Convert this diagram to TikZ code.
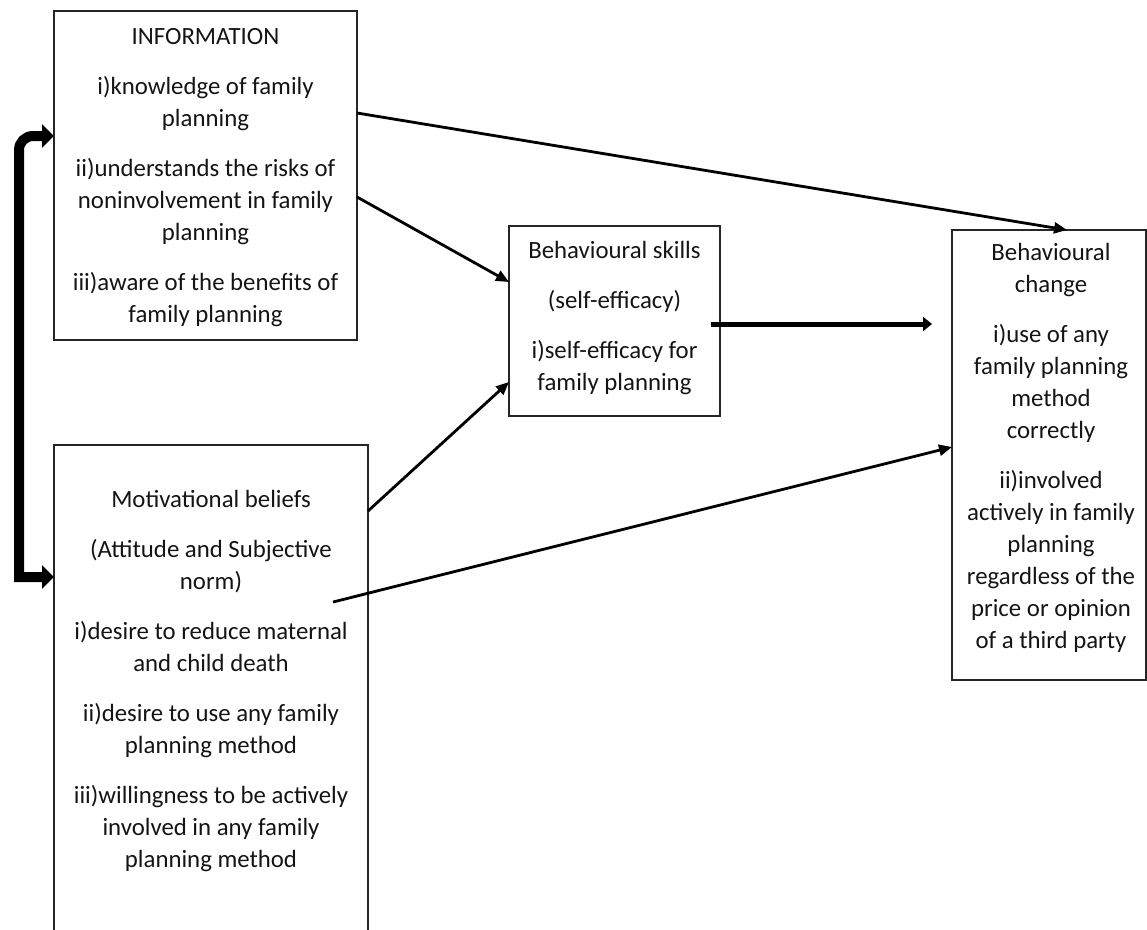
\documentclass[tikz,border=0pt]{standalone}
\usepackage{fontspec}
\setmainfont{Carlito}
\usetikzlibrary{arrows.meta,calc}
\begin{document}
\begin{tikzpicture}[x=1pt,y=-1pt,
  box/.style={draw=black!85,line width=1.8pt,rectangle,inner sep=0pt,outer sep=0pt},
  txt/.style={font=\fontsize{24.8}{32}\selectfont,align=center,inner sep=0pt,anchor=north,text=black!92},
  link/.style={line width=2.8pt,-{Triangle[length=13pt,width=11pt]}},
  boldlink/.style={line width=5pt,-{Triangle[length=9pt,width=14pt]}},
  bracket/.style={line width=10pt,{Triangle[length=12pt,width=23pt]}-{Triangle[length=12pt,width=23pt]}}]
\useasboundingbox (0,0) rectangle (1147,929);
% boxes
\node[box,minimum width=303pt,minimum height=329pt] (info) at (205.5,175.5) {};
\node[box,minimum width=314pt,minimum height=500pt] (motiv) at (211,695) {};
\node[box,minimum width=211pt,minimum height=190pt] (skills) at (614.5,321) {};
\node[box,minimum width=194pt,minimum height=450pt] (change) at (1049,455) {};
% texts
\node[txt] (infotxt) at (205.5,21.6) {\strut INFORMATION\\[18pt]
  i)knowledge of family\\ planning\\[18pt]
  ii)understands the risks of\\ noninvolvement in family\\ planning\\[18pt]
  iii)aware of the benefits of\\ family planning};
\node[txt] (motivtxt) at (211,484.6) {\strut Motivational beliefs\\[18pt]
  (Attitude and Subjective\\ norm)\\[18pt]
  i)desire to reduce maternal\\ and child death\\[18pt]
  ii)desire to use any family\\ planning method\\[18pt]
  iii)willingness to be actively\\ involved in any family\\ planning method};
\node[txt] (skillstxt) at (614.5,235.6) {\strut Behavioural skills\\[18pt]
  (self-efficacy)\\[18pt]
  i)self-efficacy for\\ family planning};
\node[txt] (changetxt) at (1051,237.6) {\strut Behavioural\\ change\\[18pt]
  i)use of any\\ family planning\\ method\\ correctly\\[18pt]
  ii)involved\\ actively in family\\ planning\\ regardless of the\\ price or opinion\\ of a third party};
% connectors
\draw[link] ($(info.north east)+(0,102)$) -- ($(change.north west)+(115,0)$);
\draw[link] ($(info.north east)+(0,186)$) -- ($(skills.north west)+(0,56)$);
\draw[link] ($(motiv.north east)+(0,66)$) -- ($(skills.north west)+(0,156)$);
\draw[link] ($(motiv.north east)+(-35,157)$) -- ($(change.north west)+(0,217)$);
\draw[boldlink] ($(skills.north east)+(-9,98)$) -- ($(change.north west)+(-20,94)$);
\draw[bracket] ($(info.north west)+(0,125)$) [rounded corners=14pt] -- ($(info.north west)+(-35,125)$) -- ($(info.north west)+(-35,300)$) [sharp corners] -- ($(motiv.north west)+(-35,132)$) -- ($(motiv.north west)+(0,132)$);
\end{tikzpicture}
\end{document}
